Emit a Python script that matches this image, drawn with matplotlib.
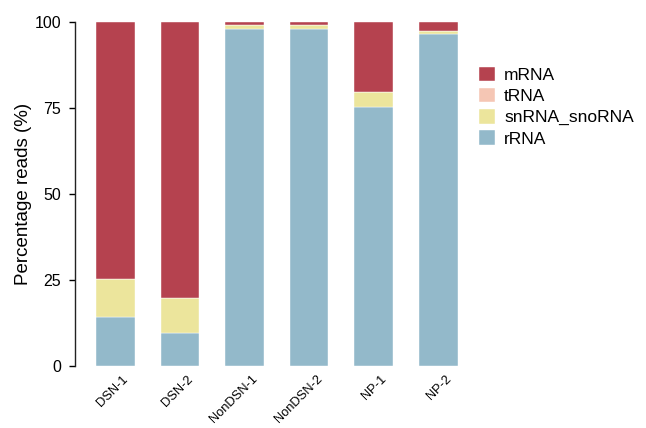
import numpy as np
import matplotlib.pyplot as plt
from matplotlib.transforms import ScaledTranslation

plt.rcParams['font.family'] = ['Liberation Sans', 'DejaVu Sans']

# 샘플별 read 구성 비율 (%)
samples = ['DSN-1', 'DSN-2', 'NonDSN-1', 'NonDSN-2', 'NP-1', 'NP-2']
rRNA = [14.3, 9.7, 97.8, 97.9, 75.1, 96.3]
snRNA_snoRNA = [10.9, 10.0, 1.2, 1.0, 4.5, 0.9]
tRNA = [0.1, 0.1, 0.1, 0.1, 0.1, 0.1]
mRNA = [74.7, 80.2, 0.9, 1.0, 20.3, 2.7]

colors = {'rRNA': '#93b9ca', 'snRNA_snoRNA': '#ece59c',
          'tRNA': '#f5c6b4', 'mRNA': '#b5424f'}

fig = plt.figure(figsize=(6.46, 4.28), dpi=100)
ax = fig.add_axes([0.1165, 0.1449, 0.612, 0.8044])

x = np.arange(len(samples))
bottom = np.zeros(len(samples))
handles = {}
for name, vals in [('rRNA', rRNA), ('snRNA_snoRNA', snRNA_snoRNA),
                   ('tRNA', tRNA), ('mRNA', mRNA)]:
    handles[name] = ax.bar(x, vals, width=0.6, bottom=bottom, color=colors[name],
                           edgecolor='white', linewidth=0.3, label=name)
    bottom += np.array(vals)

ax.set_xlim(-0.62, 5.5)
ax.set_ylim(0, 100)
ax.set_yticks([0, 25, 50, 75, 100])
ax.tick_params(axis='y', labelsize=11.5, length=4, width=1, pad=6)
ax.set_xticks(x)
ax.set_xticklabels(samples, rotation=45, ha='right', va='center',
                   rotation_mode='anchor', fontsize=9.3)
ax.tick_params(axis='x', length=0, pad=8)
# 라벨 끝을 막대 중앙보다 살짝 오른쪽으로
shift = ScaledTranslation(8 / 72, 0, fig.dpi_scale_trans)
for lab in ax.get_xticklabels():
    lab.set_transform(lab.get_transform() + shift)
ax.set_ylabel('Percentage reads (%)', fontsize=13.5, labelpad=2)

for s in ['top', 'right', 'bottom']:
    ax.spines[s].set_visible(False)
ax.spines['left'].set_linewidth(1)
ax.spines['left'].set_color('#222222')

order = ['mRNA', 'tRNA', 'snRNA_snoRNA', 'rRNA']
ax.legend([handles[k] for k in order], order, loc='upper left',
          bbox_to_anchor=(479 / 646, 1 - 67 / 428), bbox_transform=fig.transFigure,
          borderpad=0, borderaxespad=0, frameon=False, fontsize=12.5,
          handlelength=0.9, handleheight=0.9, handletextpad=0.55, labelspacing=0.28)

fig.savefig('out.png', dpi=100)
